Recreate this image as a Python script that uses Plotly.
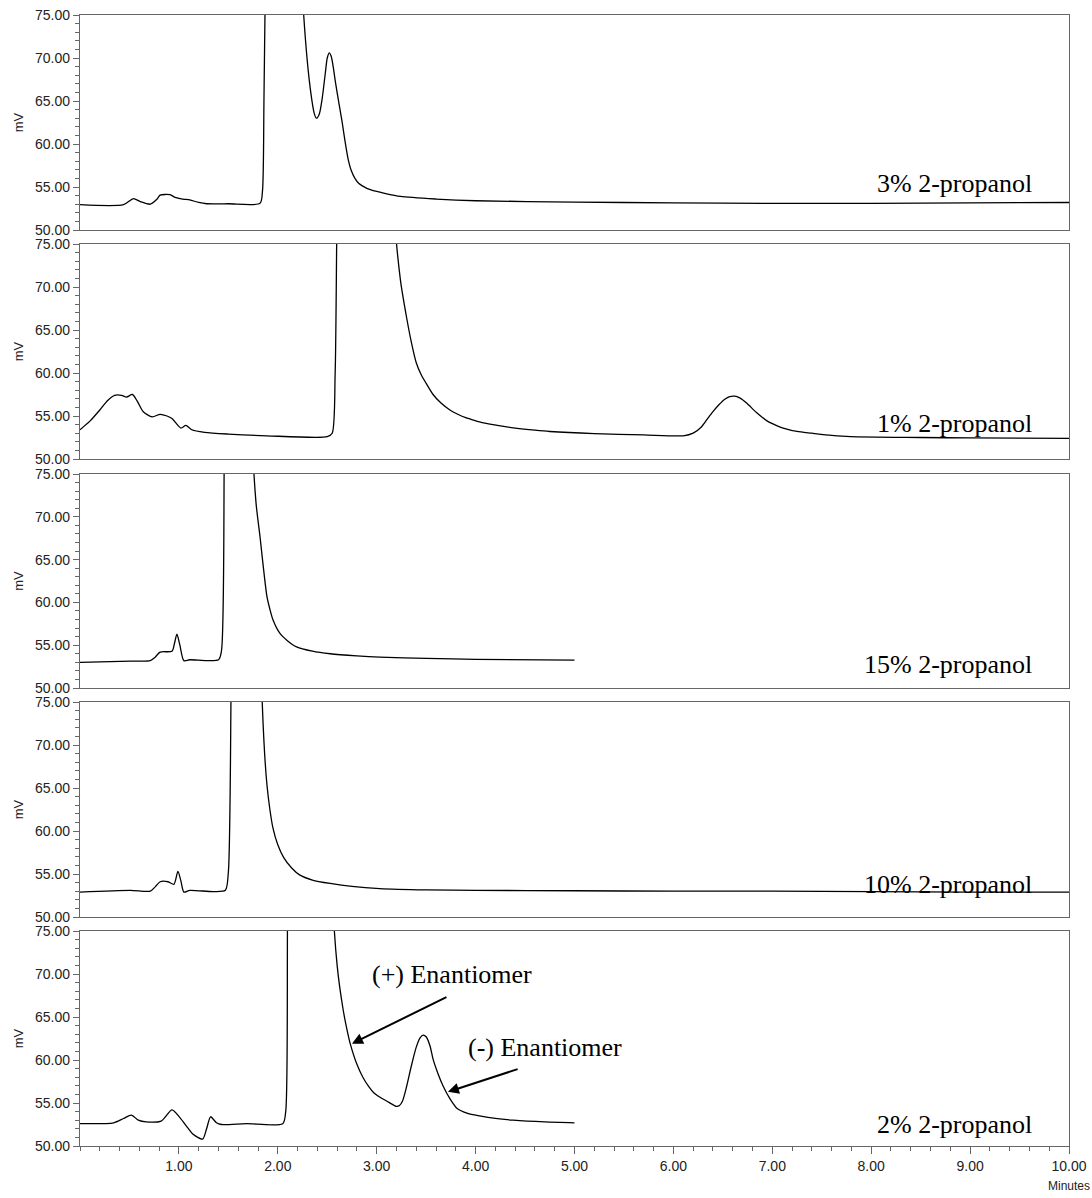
import plotly.graph_objects as go
from plotly.subplots import make_subplots

# ---- data (minutes, mV) ----
t_3pct = [0, 0.44, 0.54, 0.61, 0.71, 0.78, 0.81, 0.91, 0.96, 1.04, 1.11, 1.20, 1.28, 1.50, 1.82,
          1.845, 1.86, 1.875, 2.05, 2.24, 2.28, 2.33, 2.37, 2.39, 2.42, 2.45, 2.48, 2.50, 2.52,
          2.54, 2.56, 2.58, 2.62, 2.65, 2.68, 2.71, 2.74, 2.78, 2.82, 2.86, 2.90, 2.95, 3.00,
          3.07, 3.24, 3.60, 4.00, 5.00, 6.00, 7.00, 8.00, 9.00, 10.00]
v_3pct = [52.95, 52.95, 53.65, 53.3, 53.0, 53.6, 54.05, 54.1, 53.8, 53.6, 53.5, 53.2, 53.05, 53.05, 53.1,
          54.5, 65.0, 80.0, 300.0, 80.0, 72.1, 66.3, 63.5, 63.0, 63.5, 65.4, 68.2, 70.0, 70.6,
          70.2, 69.0, 67.4, 64.6, 62.6, 60.3, 58.3, 57.0, 56.0, 55.4, 55.1, 54.85, 54.65, 54.5,
          54.3, 53.9, 53.6, 53.4, 53.25, 53.15, 53.1, 53.1, 53.15, 53.2]

t_1pct = [0, 0.10, 0.20, 0.28, 0.35, 0.42, 0.47, 0.53, 0.58, 0.64, 0.73, 0.81, 0.88, 0.93, 1.02,
          1.07, 1.13, 1.26, 1.50, 1.89, 2.50, 2.55, 2.58, 2.60, 2.90, 3.17, 3.24, 3.30, 3.35,
          3.40, 3.45, 3.50, 3.57, 3.65, 3.74, 3.82, 3.90, 4.00, 4.08, 4.25, 4.40, 4.60, 4.75,
          5.20, 5.70, 6.10, 6.20, 6.28, 6.34, 6.40, 6.46, 6.52, 6.57, 6.62, 6.67, 6.74, 6.84,
          6.95, 7.05, 7.11, 7.25, 7.40, 7.60, 7.79, 8.50, 9.00, 10.00]
v_1pct = [53.4, 54.4, 55.7, 56.8, 57.4, 57.4, 57.2, 57.5, 56.7, 55.5, 54.9, 55.2, 55.0, 54.7, 53.6,
          53.9, 53.4, 53.1, 52.9, 52.7, 52.6, 53.0, 60.0, 80.0, 300.0, 80.0, 70.8, 66.6, 63.6,
          61.2, 59.8, 58.8, 57.5, 56.5, 55.7, 55.2, 54.8, 54.45, 54.2, 53.85, 53.6, 53.35, 53.2,
          52.95, 52.8, 52.7, 53.0, 53.7, 54.6, 55.5, 56.3, 56.95, 57.25, 57.3, 57.1, 56.5, 55.4,
          54.4, 53.85, 53.6, 53.2, 53.0, 52.75, 52.6, 52.5, 52.45, 52.4]

t_15pct = [0, 0.51, 0.71, 0.76, 0.81, 0.93, 0.955, 0.98, 1.01, 1.05, 1.11, 1.40, 1.43, 1.46,
           1.60, 1.74, 1.78, 1.82, 1.85, 1.89, 1.92, 1.95, 2.02, 2.10, 2.19, 2.35, 2.53, 2.80,
           3.03, 3.50, 4.00, 5.00]
v_15pct = [53.0, 53.15, 53.2, 53.6, 54.2, 54.3, 55.2, 56.3, 55.0, 53.2, 53.3, 53.3, 54.3, 80.0,
           300.0, 80.0, 71.6, 67.7, 64.5, 60.7, 59.2, 58.0, 56.4, 55.5, 54.8, 54.3, 54.0, 53.75,
           53.6, 53.45, 53.35, 53.25]

t_10pct = [0, 0.51, 0.71, 0.76, 0.81, 0.89, 0.95, 0.99, 1.02, 1.05, 1.11, 1.35, 1.47, 1.50, 1.53,
           1.68, 1.83, 1.86, 1.89, 1.92, 1.95, 2.00, 2.06, 2.14, 2.22, 2.35, 2.53, 2.75, 3.03,
           3.50, 4.00, 5.00, 6.00, 7.00, 8.00, 9.00, 10.00]
v_10pct = [52.9, 53.1, 53.0, 53.5, 54.1, 54.1, 53.8, 55.3, 54.2, 52.9, 53.1, 52.95, 53.1, 55.2, 80.0,
           300.0, 80.0, 70.4, 65.4, 62.5, 60.4, 58.4, 56.9, 55.7, 54.9, 54.3, 53.9, 53.55, 53.3,
           53.15, 53.1, 53.05, 53.0, 53.0, 52.95, 52.9, 52.9]

t_2pct = [0, 0.34, 0.44, 0.52, 0.59, 0.67, 0.82, 0.93, 1.01, 1.09, 1.14, 1.24, 1.28, 1.32, 1.38,
          1.43, 1.68, 2.05, 2.08, 2.10, 2.35, 2.55, 2.60, 2.66, 2.70, 2.73, 2.80, 2.86, 2.92,
          2.97, 3.03, 3.12, 3.20, 3.23, 3.26, 3.30, 3.35, 3.40, 3.44, 3.47, 3.50, 3.54, 3.57,
          3.62, 3.67, 3.74, 3.81, 3.92, 4.04, 4.20, 4.38, 4.70, 5.00]
v_2pct = [52.6, 52.7, 53.2, 53.6, 53.0, 52.8, 52.9, 54.2, 53.3, 52.1, 51.4, 50.8, 52.0, 53.4, 52.7,
          52.5, 52.6, 52.6, 54.0, 80.0, 300.0, 80.0, 71.0, 65.9, 63.5, 62.0, 59.5, 58.0, 56.9,
          56.2, 55.7, 55.1, 54.6, 54.7, 55.2, 56.8, 59.3, 61.5, 62.6, 62.9, 62.7, 61.6, 60.1,
          58.4, 57.0, 55.5, 54.4, 53.8, 53.5, 53.2, 53.0, 52.8, 52.7]

panel_t = [t_3pct, t_1pct, t_15pct, t_10pct, t_2pct]
panel_v = [v_3pct, v_1pct, v_15pct, v_10pct, v_2pct]
panel_labels = ["3% 2-propanol", "1% 2-propanol", "15% 2-propanol", "10% 2-propanol", "2% 2-propanol"]
label_y = [55.4, 54.1, 52.8, 53.75, 52.5]

y_ticks = [50, 55, 60, 65, 70, 75]
x_ticks = [1, 2, 3, 4, 5, 6, 7, 8, 9, 10]

# annotation arrows: (head_t, head_mV, tail_t, tail_mV)
plus_arrow = (2.75, 61.9, 3.72, 67.4)
minus_arrow = (3.72, 56.3, 4.44, 59.0)
plus_text = (3.76, 70.0)
minus_text = (4.70, 61.5)

# ---- layout geometry ----
W, H = 1092, 1198
mt, mb = 15, 52
plot_h = H - mt - mb
panel_px = [(15, 230), (244, 459), (474, 688), (702, 917), (931, 1146)]

def to_paper(px):
    return (H - mb - px) / plot_h

fig = make_subplots(rows=5, cols=1, shared_xaxes=True, vertical_spacing=0.01)

for i in range(5):
    fig.add_trace(go.Scatter(x=panel_t[i], y=panel_v[i], mode="lines",
                             line=dict(color="black", width=1.3, shape="spline", smoothing=0.7),
                             showlegend=False, hoverinfo="skip"),
                  row=i + 1, col=1)

frame_col = "#666666"
tick_font = dict(family="Liberation Sans, Arial", size=14, color="#222222")

for i in range(5):
    top, bot = panel_px[i]
    yname = "yaxis" if i == 0 else f"yaxis{i+1}"
    xname = "xaxis" if i == 0 else f"xaxis{i+1}"
    fig.layout[yname].update(
        domain=[to_paper(bot), to_paper(top)], automargin=False,
        range=[50, 75], tickvals=y_ticks, ticktext=[f"{v:.2f}" for v in y_ticks],
        ticks="outside", ticklen=6, tickcolor=frame_col, tickwidth=1,
        minor=dict(dtick=1, tick0=50, ticks="outside", ticklen=4, tickcolor=frame_col),
        showline=True, linecolor=frame_col, linewidth=1.2, mirror=True,
        showgrid=False, zeroline=False, tickfont=tick_font,
        title=dict(text="mV", font=dict(family="Liberation Sans, Arial", size=13, color="#222222"),
                   standoff=8),
    )
    last = (i == 4)
    fig.layout[xname].update(
        range=[0, 10], showline=True, linecolor=frame_col, linewidth=1.2, mirror=True,
        showgrid=False, zeroline=False, automargin=False,
        tickvals=x_ticks, ticktext=[f"{v:.2f}" for v in x_ticks],
        showticklabels=last, ticks="outside" if last else "",
        ticklen=7, tickcolor=frame_col, tickfont=tick_font,
        minor=dict(dtick=0.2, tick0=0, ticks="outside" if last else "", ticklen=4, tickcolor=frame_col),
    )

serif = dict(family="Liberation Serif, Times New Roman", size=26, color="black")
for i in range(5):
    xr = "x" if i == 0 else f"x{i+1}"
    yr = "y" if i == 0 else f"y{i+1}"
    fig.add_annotation(x=9.65, y=label_y[i], xref=xr, yref=yr, text=panel_labels[i],
                       showarrow=False, xanchor="right", yanchor="middle", font=serif)

for (hx, hy, tx, ty) in (plus_arrow, minus_arrow):
    fig.add_annotation(x=hx, y=hy, ax=tx, ay=ty, xref="x5", yref="y5", axref="x5", ayref="y5",
                       text="", showarrow=True, arrowhead=2, arrowsize=1.1, arrowwidth=2,
                       arrowcolor="black")

fig.add_annotation(x=plus_text[0], y=plus_text[1], xref="x5", yref="y5", text="(+) Enantiomer",
                   showarrow=False, xanchor="center", yanchor="middle", font=serif)
fig.add_annotation(x=minus_text[0], y=minus_text[1], xref="x5", yref="y5", text="(-) Enantiomer",
                   showarrow=False, xanchor="center", yanchor="middle", font=serif)

fig.add_annotation(x=10, y=0, xref="x5", yref="paper", yshift=-40, text="Minutes",
                   showarrow=False, xanchor="center", yanchor="middle",
                   font=dict(family="Liberation Sans, Arial", size=12, color="#222222"))

fig.update_layout(width=W, height=H, margin=dict(l=80, r=23, t=mt, b=mb, autoexpand=False),
                  paper_bgcolor="white", plot_bgcolor="white")

fig.write_html("out.html", config={"displayModeBar": False},
               post_script="document.body.style.margin='0';document.body.style.overflow='hidden';")
